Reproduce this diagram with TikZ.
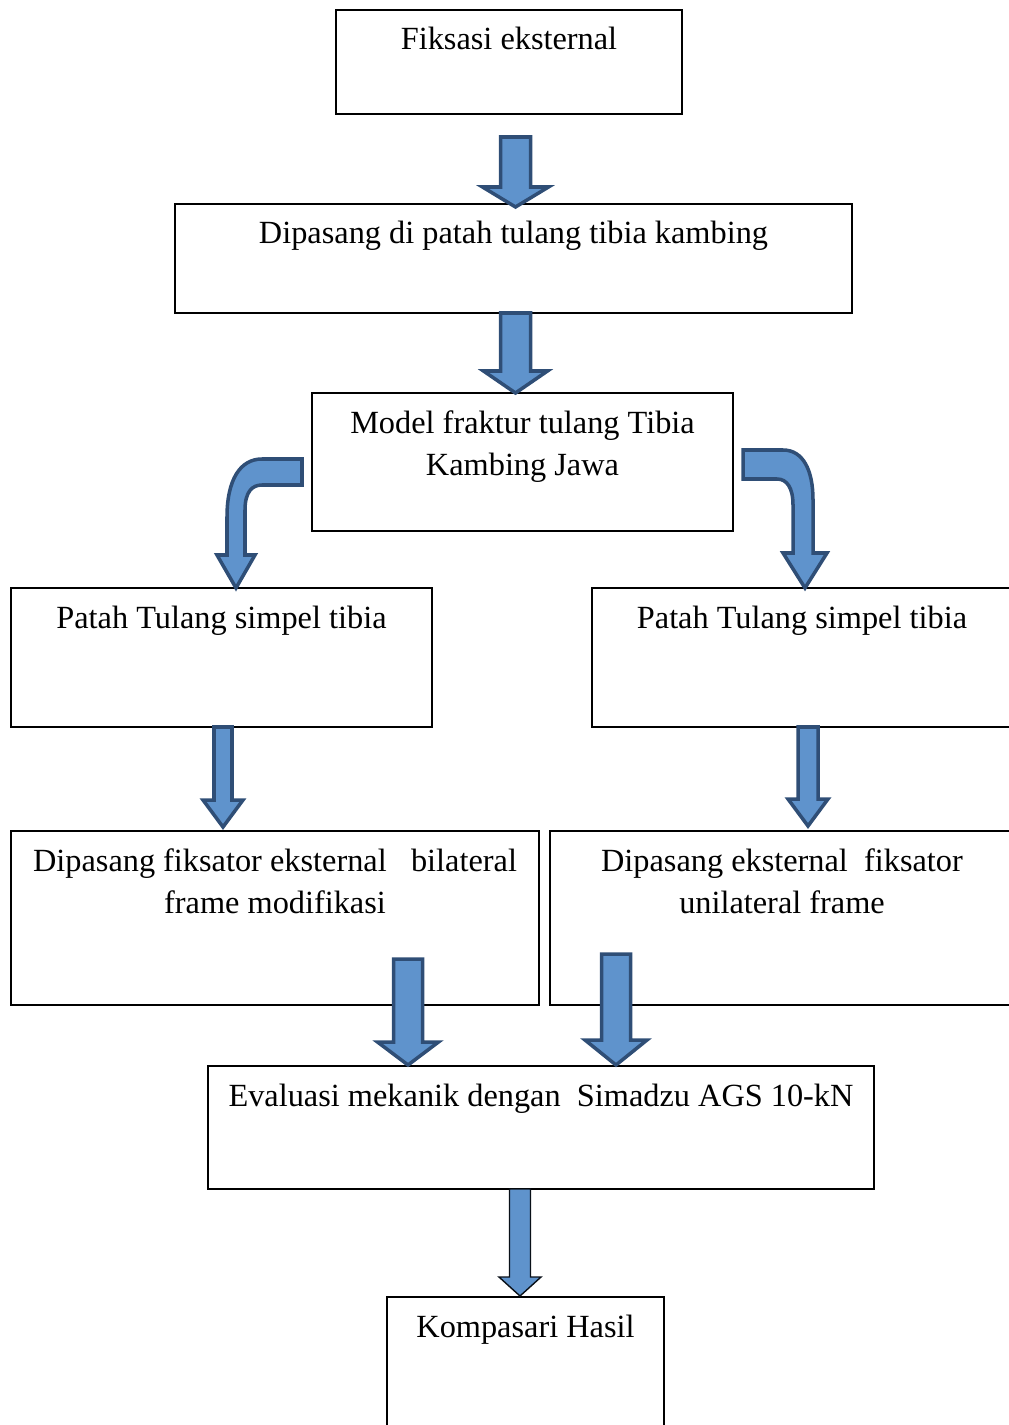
\documentclass[tikz,border=0pt]{standalone}
\usepackage{fontspec}
\setmainfont{Liberation Serif}
\usetikzlibrary{calc}

\newlength\px
\setlength\px{0.02cm}
\definecolor{isipanah}{RGB}{95,147,204}
\definecolor{tepipanah}{RGB}{47,78,118}

\tikzset{
  kotak/.style={draw, line width=1.1pt, inner sep=0pt, outer sep=0pt,
    anchor=north west, font=\fontsize{18.4}{24}\selectfont},
  panah/.style={fill=isipanah, draw=tepipanah, line width=2pt, line join=miter},
  panahtipis/.style={line width=0.8pt, draw=black!80!tepipanah},
}

% box text: width, height (px), text at top
\newcommand{\isi}[3]{\parbox[t][#2\px][t]{#1\px}{\centering\rule{0pt}{40\px}#3}}

% block arrow: [style]{top}{tip}{shaft half}{head half}{head length}
\newcommand{\blokpanah}[6][]{%
  \coordinate (pa) at (#2);
  \coordinate (pu) at (#3);
  \draw[panah,#1] ($(pu |- pa)+(-#4,0)$) -- ($(pu |- pa)+(#4,0)$)
    -- ($(pu)+(#4,-#6)$) -- ($(pu)+(#5,-#6)$) -- (pu)
    -- ($(pu)+(-#5,-#6)$) -- ($(pu)+(-#4,-#6)$) -- cycle;}

\begin{document}
\begin{tikzpicture}[x=0.02cm, y=-0.02cm]
  \useasboundingbox (0,0) rectangle (1008,1425);

  % boxes
  \node[kotak] (fiksasi) at (336,10) {\isi{346}{104}{Fiksasi eksternal}};
  \node[kotak] (pasang) at (175,204) {\isi{677}{109}{Dipasang di patah tulang tibia kambing}};
  \node[kotak] (model) at (312,393) {\isi{421}{138}{Model fraktur tulang Tibia\\Kambing Jawa}};
  \node[kotak] (patahkiri) at (11,588) {\isi{421}{139}{Patah Tulang simpel tibia}};
  \node[kotak] (patahkanan) at (592,588) {\isi{420}{139}{Patah Tulang simpel tibia}};
  \node[kotak] (fiksatorkiri) at (11,831) {\isi{528}{174}{Dipasang fiksator eksternal\ \ \ bilateral\\frame modifikasi}};
  \node[kotak] (fiksatorkanan) at (550,831) {\isi{464}{174}{Dipasang eksternal\ \ fiksator\\unilateral frame}};
  \node[kotak] (evaluasi) at (208,1066) {\isi{666}{123}{Evaluasi mekanik dengan\ \ Simadzu AGS 10-kN}};
  \node[kotak] (hasil) at (387,1297) {\isi{277}{160}{Kompasari Hasil}};

  % straight arrows
  \blokpanah{$(fiksasi.south)+(6,23)$}{$(pasang.north)+(2,3)$}{15}{33}{20}
  \blokpanah{pasang.south}{$(model.north)+(-7,0)$}{15}{32}{22}
  \blokpanah{patahkiri.south}{$(fiksatorkiri.north)+(-52,-4)$}{9}{20}{27}
  \blokpanah{patahkanan.south}{$(fiksatorkanan.north)+(26,-5)$}{10}{20}{27}
  \blokpanah{$(fiksatorkiri.south)+(0,-46)$}{$(evaluasi.north)+(-133,-1)$}{14.5}{30.5}{23}
  \blokpanah{$(fiksatorkanan.south)+(0,-51)$}{$(evaluasi.north)+(75,-1)$}{14.5}{31}{25}
  \blokpanah[panahtipis]{evaluasi.south}{$(hasil.north)+(-5.5,-1)$}{10.5}{21}{19}

  % bent arrows
  \draw[panah, shift={(model.west)}] (-10,-3) -- (-50,-3)
    .. controls (-72,-3) and (-85,18) .. (-85,55) -- (-85,93) -- (-95,93)
    -- (-76,126) -- (-57,93) -- (-67,93) -- (-67,48)
    .. controls (-67,30) and (-60,23) .. (-50,23) -- (-10,23) -- cycle;
  \draw[panah, shift={(model.east)}] (10,-12) -- (50,-12)
    .. controls (70,-12) and (80,8) .. (80,38) -- (80,91) -- (94,91)
    -- (72,126) -- (50,91) -- (60,91) -- (60,43)
    .. controls (60,26) and (54,17) .. (44,17) -- (10,17) -- cycle;
\end{tikzpicture}
\end{document}
